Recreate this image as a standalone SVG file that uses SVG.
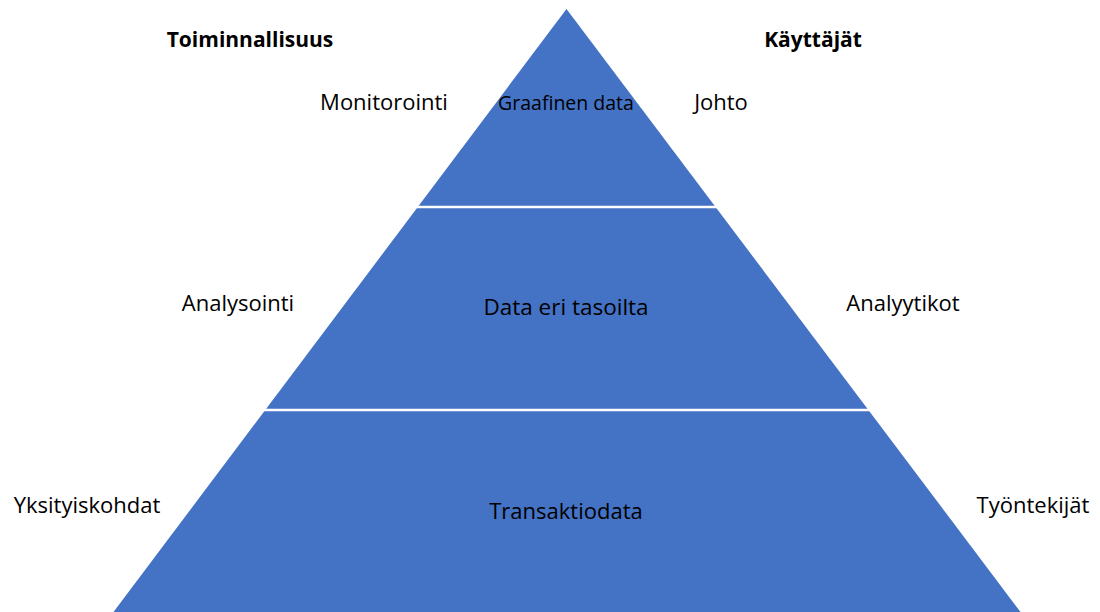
<svg xmlns="http://www.w3.org/2000/svg" width="1100" height="612" viewBox="0 0 1100 612">
  <style>
    .tier { fill: #4472C4; }
    .divider { stroke: #FFFFFF; stroke-width: 2.5; }
    .lbl { font-family: "Open Sans", "Noto Sans", "Liberation Sans", sans-serif; font-size: 22px; fill: #000000; text-anchor: middle; }
    .head { font-family: "Open Sans", "Noto Sans", "Liberation Sans", sans-serif; font-size: 21px; font-weight: bold; fill: #000000; text-anchor: middle; }
    .inner { font-family: "Open Sans", "Noto Sans", "Liberation Sans", sans-serif; fill: #000000; text-anchor: middle; }
  </style>
  <rect width="1100" height="612" fill="#FFFFFF"/>

  <!-- pyramid body -->
  <g id="pyramid">
    <polygon class="tier" points="566.5,9 1022,614 112,614"/>
  </g>

  <!-- tier separators -->
  <g id="connectors">
    <line class="divider" x1="410" y1="207" x2="724" y2="207"/>
    <line class="divider" x1="255" y1="410" x2="878" y2="410"/>
  </g>

  <!-- tier labels -->
  <g id="tier-top">
    <text class="inner" x="566" y="110" font-size="19.5">Graafinen data</text>
  </g>
  <g id="tier-middle">
    <text class="inner" x="566" y="315" font-size="22.5">Data eri tasoilta</text>
  </g>
  <g id="tier-bottom">
    <text class="inner" x="566" y="519" font-size="22">Transaktiodata</text>
  </g>

  <!-- column headings -->
  <g id="heading-left">
    <text class="head" x="250" y="47">Toiminnallisuus</text>
  </g>
  <g id="heading-right">
    <text class="head" x="813" y="47">Käyttäjät</text>
  </g>

  <!-- functionality side -->
  <g id="func-monitoring">
    <text class="lbl" x="384" y="110">Monitorointi</text>
  </g>
  <g id="func-analysis">
    <text class="lbl" x="238" y="311">Analysointi</text>
  </g>
  <g id="func-details">
    <text class="lbl" x="87" y="513">Yksityiskohdat</text>
  </g>

  <!-- users side -->
  <g id="user-management">
    <text class="lbl" x="721" y="110">Johto</text>
  </g>
  <g id="user-analysts">
    <text class="lbl" x="903" y="311">Analyytikot</text>
  </g>
  <g id="user-employees">
    <text class="lbl" x="1033" y="513">Työntekijät</text>
  </g>
</svg>
